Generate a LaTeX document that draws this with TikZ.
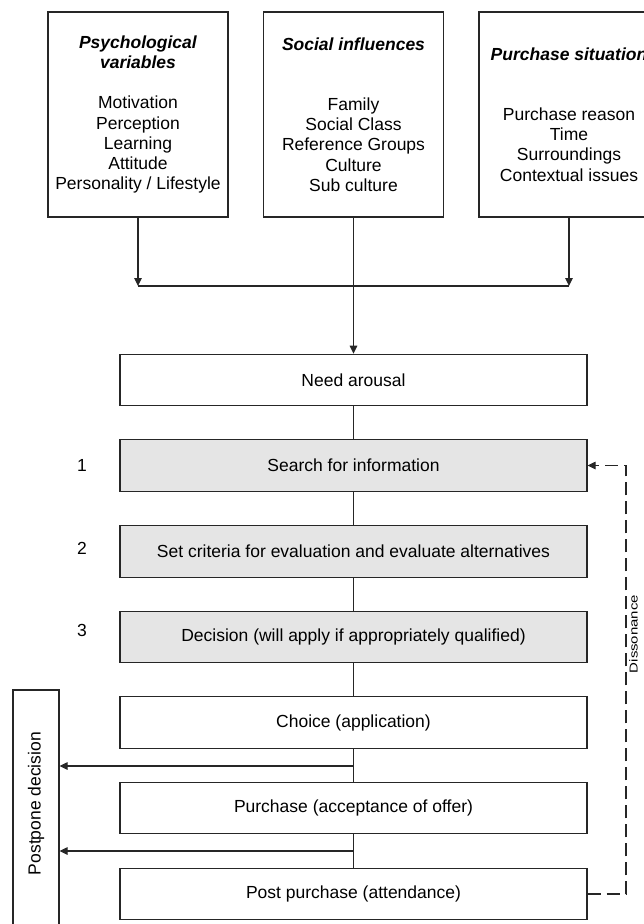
\documentclass[tikz,border=0pt]{standalone}
\usepackage{fontspec}
\setmainfont{Liberation Sans}
\usetikzlibrary{arrows.meta}
\begin{document}
\begin{tikzpicture}[x=1pt,y=-1pt,
  line/.style={draw=black!85, line width=1.1pt},
  txt/.style={font=\fontsize{17.5}{20.1}\selectfont},
  factor/.style={line, txt, rectangle, minimum width=180pt, minimum height=205pt, inner sep=0pt, align=center},
  stage/.style={line, txt, rectangle, minimum width=467pt, minimum height=51.5pt, inner sep=0pt},
  keystage/.style={stage, fill=black!10},
  arr/.style={line, -{Triangle[length=8pt,width=7.5pt]}},
  dasharr/.style={line, dash pattern=on 13pt off 6pt, -{Triangle[length=8pt,width=7.5pt]}},
]
\useasboundingbox (0,0) rectangle (644,924);
\clip (0,0) rectangle (644,924);

% influencing factors
\node[factor] (psy) at (138,114.5) {\textbf{\textit{Psychological}}\\\textbf{\textit{variables}}\\[20.1pt]Motivation\\Perception\\Learning\\Attitude\\Personality / Lifestyle};
\node[factor] (soc) at (353.5,114.5) {\textbf{\textit{Social influences}}\\[40.2pt]Family\\Social Class\\Reference Groups\\Culture\\Sub culture};
\node[factor] (sit) at (569,114.5) {\textbf{\textit{Purchase situation}}\\[40.2pt]Purchase reason\\Time\\Surroundings\\Contextual issues};

% decision stages
\node[stage] (need) at (353.5,380) {Need arousal};
\node[keystage] (search) at (353.5,465.5) {Search for information};
\node[keystage] (criteria) at (353.5,551.5) {Set criteria for evaluation and evaluate alternatives};
\node[keystage] (decide) at (353.5,637) {Decision (will apply if appropriately qualified)};
\node[stage] (choice) at (353.5,722.5) {Choice (application)};
\node[stage] (buy) at (353.5,808) {Purchase (acceptance of offer)};
\node[stage] (post) at (353.5,894) {Post purchase (attendance)};

% step numbers
\node[txt] (n1) at (82,465) {1};
\node[txt] (n2) at (82,548) {2};
\node[txt] (n3) at (82,630) {3};

% postponement box
\node[line, rectangle, minimum width=46pt, minimum height=260pt, inner sep=0pt] (postpone) at (36,820) {};
\node[txt, rotate=90] (postponetext) at (36,803.5) {Postpone decision};

% merging of the factors
\coordinate (merge) at (353.5,286);
\draw[arr] (psy.south) -- (psy.south |- merge);
\draw[arr] (sit.south) -- (sit.south |- merge);
\draw[line] (psy.south |- merge) -- (sit.south |- merge);
\draw[arr] (soc.south) -- (need.north);

% main flow
\draw[line] (need) -- (search);
\draw[line] (search) -- (criteria);
\draw[line] (criteria) -- (decide);
\draw[line] (decide) -- (choice);
\draw[line] (choice) -- (buy);
\draw[line] (buy) -- (post);

% branches to postponement
\coordinate (b1) at (353.5,766);
\coordinate (b2) at (353.5,851);
\draw[arr] (b1) -- (postpone.east |- b1);
\draw[arr] (b2) -- (postpone.east |- b2);

% dissonance feedback
\coordinate (fb) at (626,0);
\draw[dasharr] (post.east) -- (fb |- post.east) -- (fb |- search.east) -- (search.east);
\node[font=\fontsize{11.5}{13}\selectfont, rotate=90, anchor=base, inner sep=0pt] (diss) at (637.5,634) {\scalebox{1.3}[1]{Dissonance}};
\end{tikzpicture}
\end{document}
